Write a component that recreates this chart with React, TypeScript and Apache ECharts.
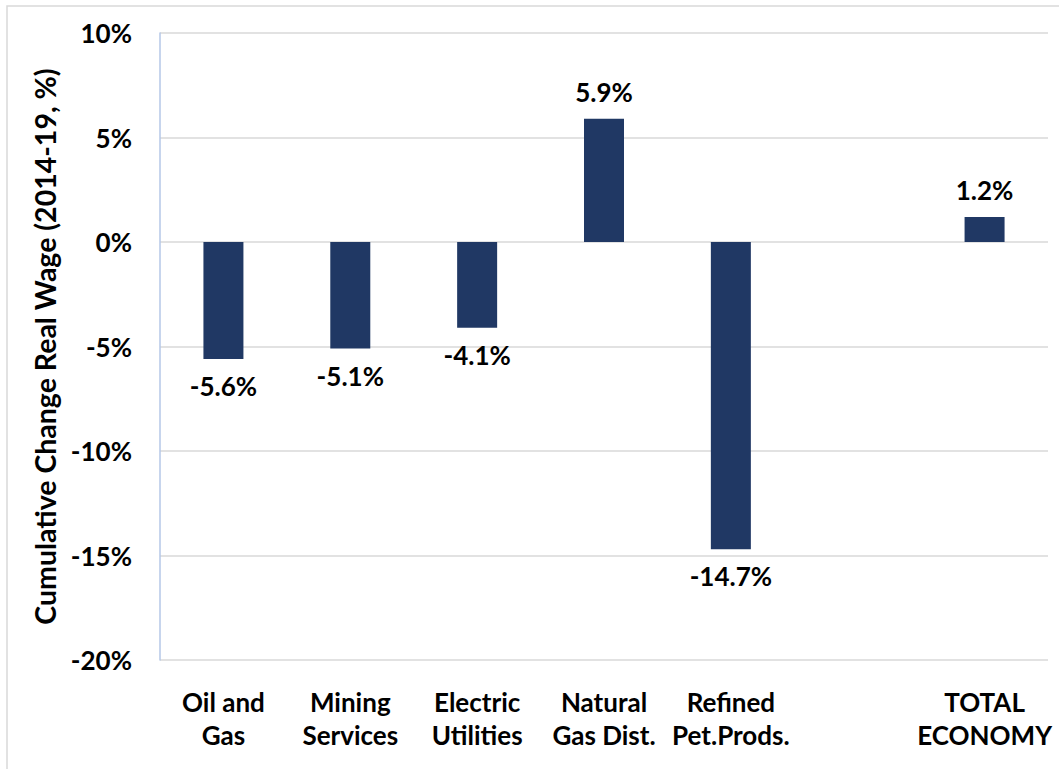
import React, { useEffect, useRef } from "react";
import * as echarts from "echarts";

const categories = [
  "Oil and\nGas",
  "Mining\nServices",
  "Electric\nUtilities",
  "Natural\nGas Dist.",
  "Refined\nPet.Prods.",
  "",
  "TOTAL\nECONOMY",
];
const values: (number | null)[] = [-5.6, -5.1, -4.1, 5.9, -14.7, null, 1.2];
const yTicks = [-20, -15, -10, -5, 0, 5, 10];
const yAxisTitle = "Cumulative Change Real Wage (2014-19, %)";

const FONT = "Lato, 'Open Sans', sans-serif";

export default function App() {
  const ref = useRef<HTMLDivElement>(null);
  useEffect(() => {
    if (!ref.current) return;
    const chart = echarts.init(ref.current, undefined, { renderer: "svg" });
    chart.setOption({
      animation: false,
      backgroundColor: "#ffffff",
      grid: { left: 160, top: 33, right: 11, bottom: 109, containLabel: false },
      graphic: [
        {
          type: "rect",
          shape: { x: 7, y: 6, width: 1100, height: 800 },
          style: { fill: "none", stroke: "#D9D9D9", lineWidth: 1.5 },
          silent: true,
        },
      ],
      xAxis: {
        type: "category",
        data: categories,
        axisLine: { show: false },
        axisTick: { show: false },
        axisLabel: {
          interval: 0,
          margin: 25,
          fontFamily: FONT,
          fontWeight: "bold",
          fontSize: 26,
          lineHeight: 33,
          color: "#000000",
        },
      },
      yAxis: {
        type: "value",
        min: yTicks[0],
        max: yTicks[yTicks.length - 1],
        interval: 5,
        name: yAxisTitle,
        nameLocation: "middle",
        nameGap: 101,
        nameTextStyle: {
          fontFamily: FONT,
          fontWeight: "bold",
          fontSize: 28.5,
          color: "#000000",
        },
        axisLine: { show: true, lineStyle: { color: "#B4C7E7", width: 1.5 } },
        axisTick: { show: false },
        splitLine: { lineStyle: { color: "#D9D9D9", width: 1.5 } },
        axisLabel: {
          margin: 28,
          fontFamily: FONT,
          fontWeight: "bold",
          fontSize: 26,
          color: "#000000",
          formatter: (v: number) => `${v}%`,
        },
      },
      series: [
        {
          type: "bar",
          barWidth: 40,
          itemStyle: { color: "#203864" },
          data: values.map((v) =>
            v === null
              ? null
              : {
                  value: v,
                  label: { position: v < 0 ? "bottom" : "top" },
                }
          ),
          label: {
            show: true,
            distance: 14,
            fontFamily: FONT,
            fontWeight: "bold",
            fontSize: 26,
            color: "#000000",
            formatter: (p: any) => `${Number(p.value).toFixed(1)}%`,
          },
        },
      ],
    });
    return () => chart.dispose();
  }, []);
  return (
    <div
      ref={ref}
      style={{ position: "fixed", left: 0, top: 0, width: 1059, height: 769 }}
    />
  );
}
